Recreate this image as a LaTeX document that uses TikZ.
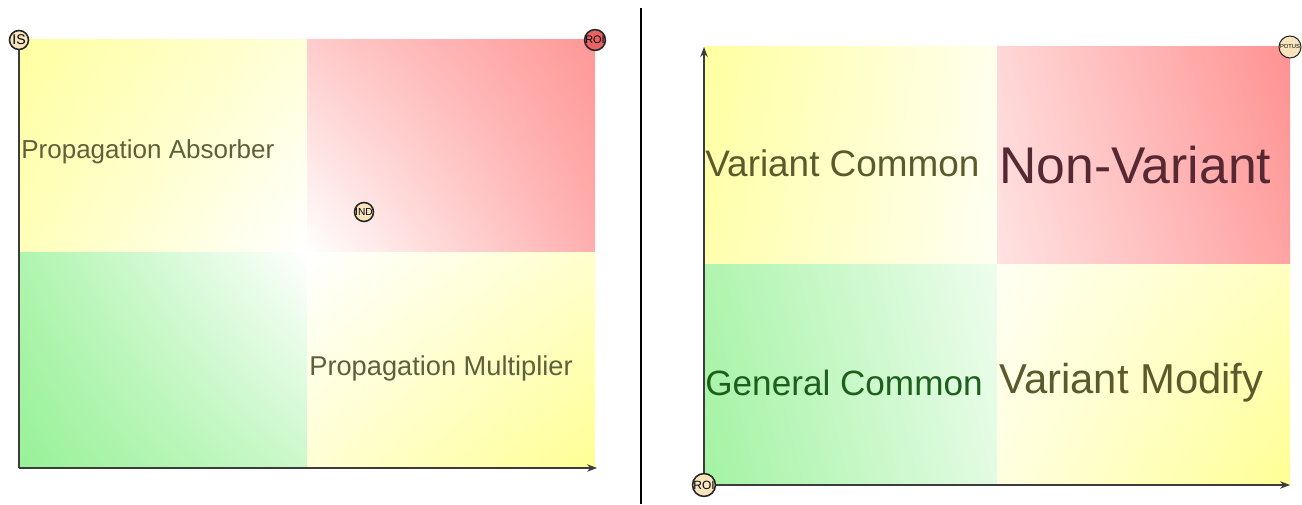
\documentclass[tikz,border=0pt]{standalone}
\usepackage{fontspec}
\setmainfont{Liberation Sans}
\usepackage{xcolor}
\usetikzlibrary{arrows.meta, positioning, shadings}
\definecolor{quadyellow}{RGB}{255,255,130}
\definecolor{quadred}{RGB}{255,140,140}
\definecolor{quadgreen}{RGB}{140,240,140}
\definecolor{badgefill}{RGB}{250,228,190}
\definecolor{badgered}{RGB}{232,100,100}
\definecolor{textolive}{RGB}{90,90,45}
\definecolor{textgray}{RGB}{95,95,60}
\definecolor{textmaroon}{RGB}{85,40,50}
\definecolor{textgreen}{RGB}{30,95,30}
\definecolor{axisgray}{RGB}{60,60,60}

\tikzset{
    badge/.style={circle, draw=black!85, line width=0.9pt, fill=badgefill, inner sep=0pt, minimum size=0.38cm},
    quadlabel/.style={anchor=west, inner sep=0pt},
    axisline/.style={axisgray, line width=0.6pt},
}

\begin{document}
\begin{tikzpicture}[x=0.02cm, y=0.02cm, >=Stealth]
    \useasboundingbox (0,0) rectangle (1302,504);
    % left matrix
    \shade[upper left=quadyellow!75!white, lower left=quadyellow!55!white, upper right=quadyellow!30!white, lower right=white] (19,251) rectangle (307,464);
    \shade[upper left=quadred!45!white, lower left=white, upper right=quadred!90!white, lower right=quadred!70!white] (307,251) rectangle (595,464);
    \shade[upper left=quadgreen!70!white, lower left=quadgreen!90!white, upper right=white, lower right=quadgreen!45!white] (19,36) rectangle (307,251);
    \shade[upper left=white, lower left=quadyellow!35!white, upper right=quadyellow!40!white, lower right=quadyellow!85!white] (307,36) rectangle (595,251);
    \node[quadlabel, text=textgray, font=\fontsize{14.8}{16}\selectfont] (absorber) at (21,352) {Propagation Absorber};
    \node[quadlabel, text=textgray, font=\fontsize{15.5}{17}\selectfont] (multiplier) at (309,136) {Propagation Multiplier};
    \coordinate (lorigin) at (19,36);
    \coordinate (lxend) at (597,36);
    \node[badge, font=\fontsize{8}{8}\selectfont] (is) at (19,464) {IS};
    \node[badge, fill=badgered, font=\fontsize{6.2}{6}\selectfont] (roitop) at (595,464) {ROI};
    \node[badge, font=\fontsize{5.8}{6}\selectfont] (ind) at (364,292) {IND};
    \draw[axisline] (lorigin) -- (is);
    \draw[axisline, ->] (lorigin) -- (lxend);

    % divider
    \draw[line width=1.3pt] (641,496) -- (641,0);

    % right matrix
    \shade[upper left=quadyellow!75!white, lower left=quadyellow!65!white, upper right=quadyellow!15!white, lower right=quadyellow!10!white] (704,239) rectangle (997,457);
    \shade[upper left=quadred!35!white, lower left=quadred!25!white, upper right=quadred!95!white, lower right=quadred!80!white] (997,239) rectangle (1290,457);
    \shade[upper left=quadgreen!70!white, lower left=quadgreen!80!white, upper right=quadgreen!15!white, lower right=quadgreen!25!white] (704,19) rectangle (997,239);
    \shade[upper left=quadyellow!10!white, lower left=quadyellow!25!white, upper right=quadyellow!50!white, lower right=quadyellow!85!white] (997,19) rectangle (1290,239);
    \node[quadlabel, text=textolive, font=\fontsize{21}{22}\selectfont] (varcommon) at (705,341) {Variant Common};
    \node[quadlabel, text=textmaroon, font=\fontsize{29.4}{30}\selectfont] (nonvariant) at (999,339) {Non-Variant};
    \node[quadlabel, text=textgreen, font=\fontsize{20}{22}\selectfont] (gencommon) at (705,121) {General Common};
    \node[quadlabel, text=textolive, font=\fontsize{23.8}{25}\selectfont] (varmodify) at (999,121) {Variant Modify};
    \coordinate (ryend) at (704,457);
    \coordinate (rxend) at (1290,19);
    \node[badge, minimum size=0.44cm, font=\fontsize{6.8}{7}\selectfont] (roibottom) at (704,19) {ROI};
    \node[badge, minimum size=0.44cm, line width=0.6pt, font=\fontsize{3.3}{3}\selectfont] (potus) at (1290,457) {POTUS};
    \draw[axisline, ->] (roibottom) -- (ryend);
    \draw[axisline, ->] (roibottom) -- (rxend);
\end{tikzpicture}
\end{document}
